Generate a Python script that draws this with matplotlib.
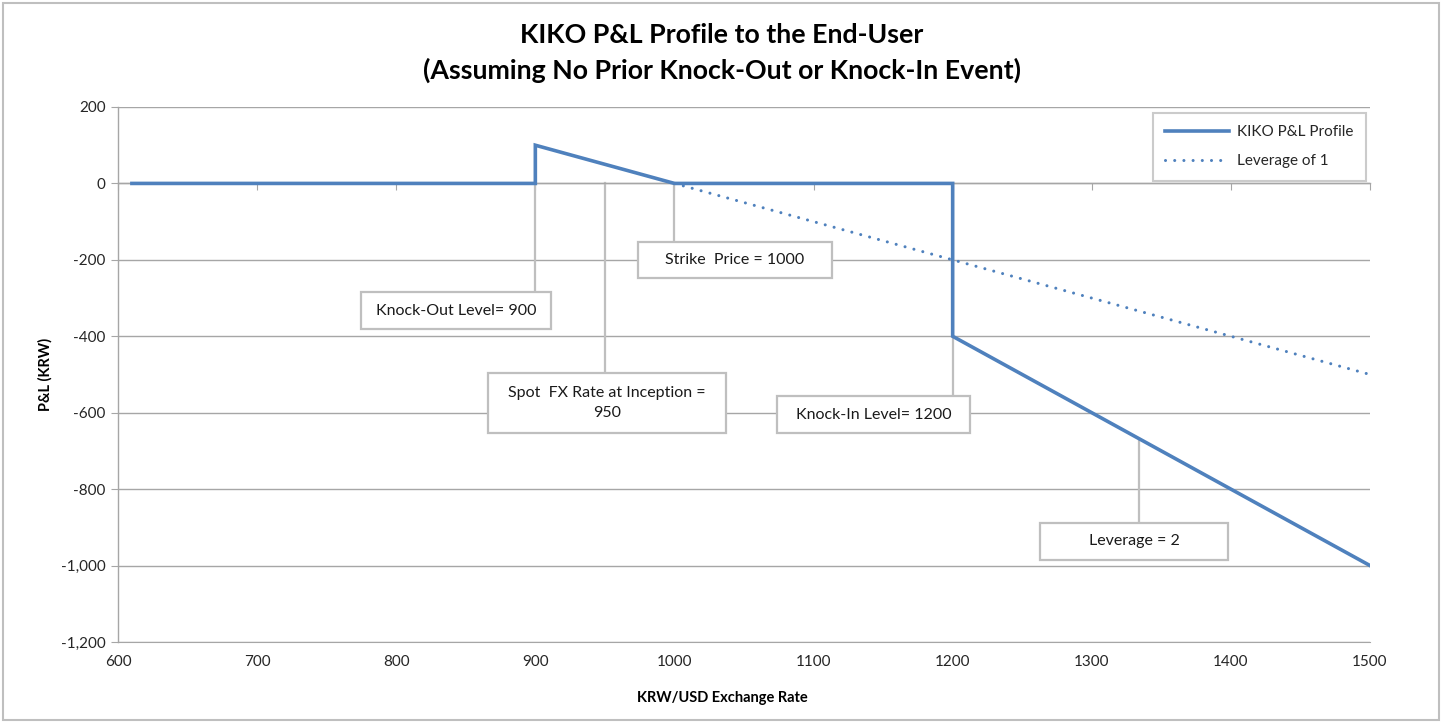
import matplotlib
matplotlib.use("Agg")
import matplotlib.pyplot as plt
from matplotlib.patches import Rectangle
from matplotlib.ticker import FuncFormatter

plt.rcParams['font.family'] = ['Lato', 'DejaVu Sans']

# ---- data ----
kiko_x = [610, 900, 900, 1000, 1200, 1200, 1500]
kiko_y = [0, 0, 100, 0, 0, -400, -1000]
lev1_x = [1000, 1500]
lev1_y = [0, -500]
x_ticks = [600, 700, 800, 900, 1000, 1100, 1200, 1300, 1400, 1500]
y_ticks = [200, 0, -200, -400, -600, -800, -1000, -1200]

# annotations: text, anchor point (x, y), box center (x, y), box width/height in data units
annotations = [
    ("Knock-Out Level= 900", (900, 0), (843, -333), 137, 97),
    ("Spot  FX Rate at Inception =\n950", (950, 0), (951.5, -575), 171, 157),
    ("Strike  Price = 1000", (1000, 0), (1043.5, -200), 139, 94),
    ("Knock-In Level= 1200", (1200, -400), (1143, -605), 139, 97),
    ("Leverage = 2", (1334, -668), (1330.5, -937), 135, 97),
]

BLUE = '#4F81BD'
GRID = '#A6A6A6'
LEAD = '#BFBFBF'

fig = plt.figure(figsize=(14.42, 7.23), dpi=100)
ax = fig.add_axes([118/1442, 1-642/723, (1370-118)/1442, (642-107)/723])

# outer chart border
fig.patches.append(Rectangle((3/1442, 3/723), 1436/1442, 717/723, transform=fig.transFigure,
                             fill=False, edgecolor='#BFBFBF', linewidth=1.5))

ax.set_xlim(600, 1500)
ax.set_ylim(-1200, 200)

ax.set_yticks(y_ticks)
ax.yaxis.set_major_formatter(FuncFormatter(lambda v, p: f"{int(v):,}"))
ax.grid(axis='y', color=GRID, linewidth=1.0, zorder=0)
ax.set_axisbelow(True)

for s in ['top', 'right']:
    ax.spines[s].set_visible(False)
ax.spines['left'].set_color(GRID)
ax.spines['bottom'].set_color(GRID)
ax.spines['bottom'].set_position(('data', 0))
ax.spines['left'].set_linewidth(1.0)
ax.spines['bottom'].set_linewidth(1.0)

ax.set_xticks(x_ticks)
ax.tick_params(axis='x', direction='out', length=5, color=GRID, labelbottom=False)
ax.tick_params(axis='y', direction='out', length=5, color=GRID, labelsize=11, labelcolor='#262626', pad=4)

secax = ax.secondary_xaxis(0.0)
secax.set_xticks(x_ticks)
secax.tick_params(length=0, labelsize=11, labelcolor='#262626', pad=9)
secax.spines['bottom'].set_color(GRID)

# leader lines and boxes
for text, (ax_x, ax_y), (cx, cy), w, h in annotations:
    ax.plot([ax_x, ax_x], [ax_y, cy + h/2], color=LEAD, linewidth=1.6, zorder=2)
    ax.add_patch(Rectangle((cx - w/2, cy - h/2), w, h, facecolor='white', edgecolor=LEAD,
                           linewidth=1.6, zorder=4))
    ax.text(cx, cy, text, ha='center', va='center', fontsize=11.5, color='#1a1a1a',
            zorder=5, linespacing=1.5)

ax.plot(lev1_x, lev1_y, color=BLUE, linewidth=2.2, linestyle=(0, (0.01, 3.0)),
        dash_capstyle='round', zorder=3, label='Leverage of 1')
ax.plot(kiko_x, kiko_y, color=BLUE, linewidth=2.6, zorder=3, label='KIKO P&L Profile',
        solid_joinstyle='miter')

handles, labels = ax.get_legend_handles_labels()
leg = ax.legend(handles[::-1], labels[::-1], loc='upper right', bbox_to_anchor=(0.9965, 0.989),
                fontsize=11, frameon=True, fancybox=False, edgecolor=LEAD,
                handlelength=4.2, handletextpad=0.5, borderpad=0.8, labelspacing=1.0,
                borderaxespad=0)
leg.get_frame().set_linewidth(1.5)
for t in leg.get_texts():
    t.set_color('#262626')

fig.text(722/1442, 1-53/723, "KIKO P&L Profile to the End-User\n(Assuming No Prior Knock-Out or Knock-In Event)",
         ha='center', va='center', fontsize=19.3, fontweight='bold', linespacing=1.5, color='#000000')

ax.set_ylabel("P&L (KRW)", fontsize=10.5, fontweight='bold', labelpad=6)
fig.text(722/1442, 1-698/723, "KRW/USD Exchange Rate", ha='center', va='center',
         fontsize=10.5, fontweight='bold')

fig.savefig("out.png", dpi=100)
